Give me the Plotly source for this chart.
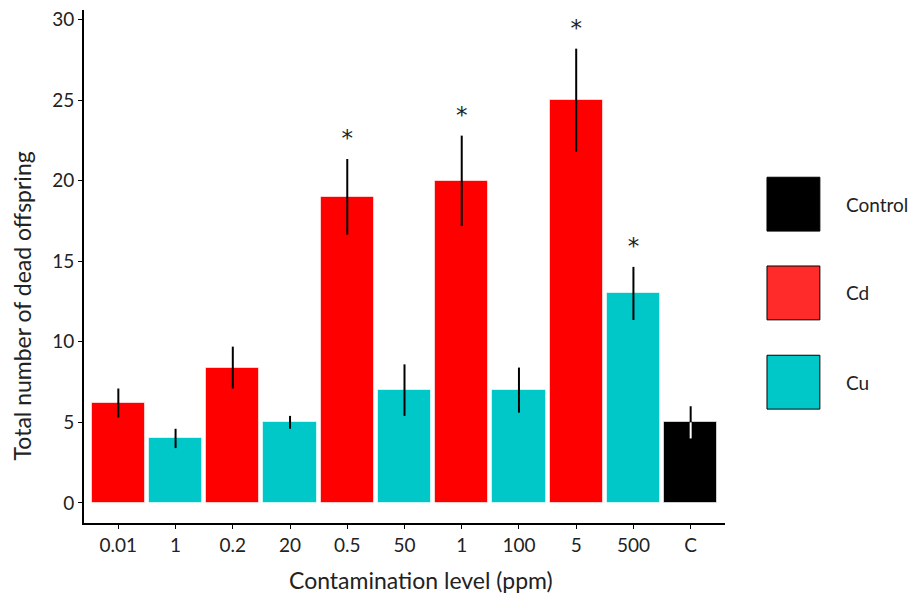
import plotly.graph_objects as go

# ---- data ----
tick_labels = ["0.01", "1", "0.2", "20", "0.5", "50", "1", "100", "5", "500", "C"]
groups = ["Cd", "Cu", "Cd", "Cu", "Cd", "Cu", "Cd", "Cu", "Cd", "Cu", "Control"]
means = [6.2, 4.0, 8.4, 5.0, 19.0, 7.0, 20.0, 7.0, 25.0, 13.0, 5.0]
errors = [0.9, 0.6, 1.3, 0.4, 2.35, 1.6, 2.8, 1.4, 3.2, 1.65, 1.0]
significant = [False, False, False, False, True, False, True, False, True, True, False]

legend_order = ["Control", "Cd", "Cu"]
bar_colors = {"Cd": "#FF0000", "Cu": "#00C8C8", "Control": "#000000"}
legend_colors = {"Control": "#000000", "Cd": "#FF2A2A", "Cu": "#00C8C8"}

x_title = "Contamination level (ppm)"
y_title = "Total number of dead offspring"

FONT = "Lato, 'Open Sans', sans-serif"
xs = list(range(len(tick_labels)))

fig = go.Figure()
for g in ["Cd", "Cu", "Control"]:
    idx = [i for i in xs if groups[i] == g]
    fig.add_trace(go.Bar(
        x=[xs[i] for i in idx],
        y=[means[i] for i in idx],
        width=0.93,
        marker=dict(color=bar_colors[g], line=dict(color="rgba(255,255,255,0.6)", width=1)),
        error_y=dict(type="data", array=[errors[i] for i in idx], visible=True,
                     color="black", thickness=2, width=0),
        showlegend=False,
    ))

# white lower whisker inside the control bar
ctrl = [i for i in xs if groups[i] == "Control"]
fig.add_trace(go.Scatter(
    x=[xs[i] for i in ctrl], y=[means[i] for i in ctrl], mode="markers",
    marker=dict(size=1, opacity=0),
    error_y=dict(type="data", symmetric=False, array=[0 for _ in ctrl],
                 arrayminus=[errors[i] for i in ctrl], color="white", thickness=2, width=0),
    showlegend=False, hoverinfo="skip",
))

# significance stars
sig = [i for i in xs if significant[i]]
fig.add_trace(go.Scatter(
    x=[xs[i] for i in sig], y=[means[i] + errors[i] + 1.15 for i in sig],
    mode="text", text=["*"] * len(sig), textposition="middle center",
    textfont=dict(family="DejaVu Sans, sans-serif", size=23, color="#222222"),
    showlegend=False, hoverinfo="skip",
))

# custom legend (large squares)
shapes = []
annotations = []
box_y = [0.569, 0.396, 0.222]
for k, name in enumerate(legend_order):
    y0 = box_y[k]
    shapes.append(dict(type="rect", xref="paper", yref="paper",
                       x0=1.0655, x1=1.148, y0=y0, y1=y0 + 0.105,
                       fillcolor=legend_colors[name],
                       line=dict(color="black", width=1)))
    annotations.append(dict(xref="paper", yref="paper", x=1.185, y=y0 + 0.0525,
                            text=name, showarrow=False, xanchor="left", yanchor="middle",
                            font=dict(family=FONT, size=19, color="#222222")))

# axis titles
annotations.append(dict(xref="paper", yref="paper", x=0.526, y=-0.111, text=x_title,
                        showarrow=False, xanchor="center", yanchor="middle",
                        font=dict(family=FONT, size=23, color="#222222")))
annotations.append(dict(xref="paper", yref="paper", x=-0.096, y=0.423, text=y_title,
                        showarrow=False, xanchor="center", yanchor="middle", textangle=-90,
                        font=dict(family=FONT, size=23, color="#222222")))

fig.update_layout(
    width=914, height=595,
    margin=dict(l=84, r=189, t=10, b=72),
    plot_bgcolor="white", paper_bgcolor="white",
    font=dict(family=FONT, size=19, color="#222222"),
    shapes=shapes, annotations=annotations,
    bargap=0,
    xaxis=dict(
        range=[-0.6, 10.6], tickmode="array", tickvals=xs, ticktext=tick_labels,
        showline=True, linecolor="black", linewidth=2, ticks="outside",
        tickcolor="black", ticklen=4, showgrid=False, zeroline=False,
        automargin=False, tickfont=dict(size=19),
    ),
    yaxis=dict(
        range=[-1.25, 30.6], tickvals=[0, 5, 10, 15, 20, 25, 30],
        showline=True, linecolor="black", linewidth=2, ticks="outside",
        tickcolor="black", ticklen=4, showgrid=False, zeroline=False,
        automargin=False, tickfont=dict(size=19),
    ),
)

fig.write_html("out.html", config={"displayModeBar": False},
               post_script="document.body.style.margin='0px';")
